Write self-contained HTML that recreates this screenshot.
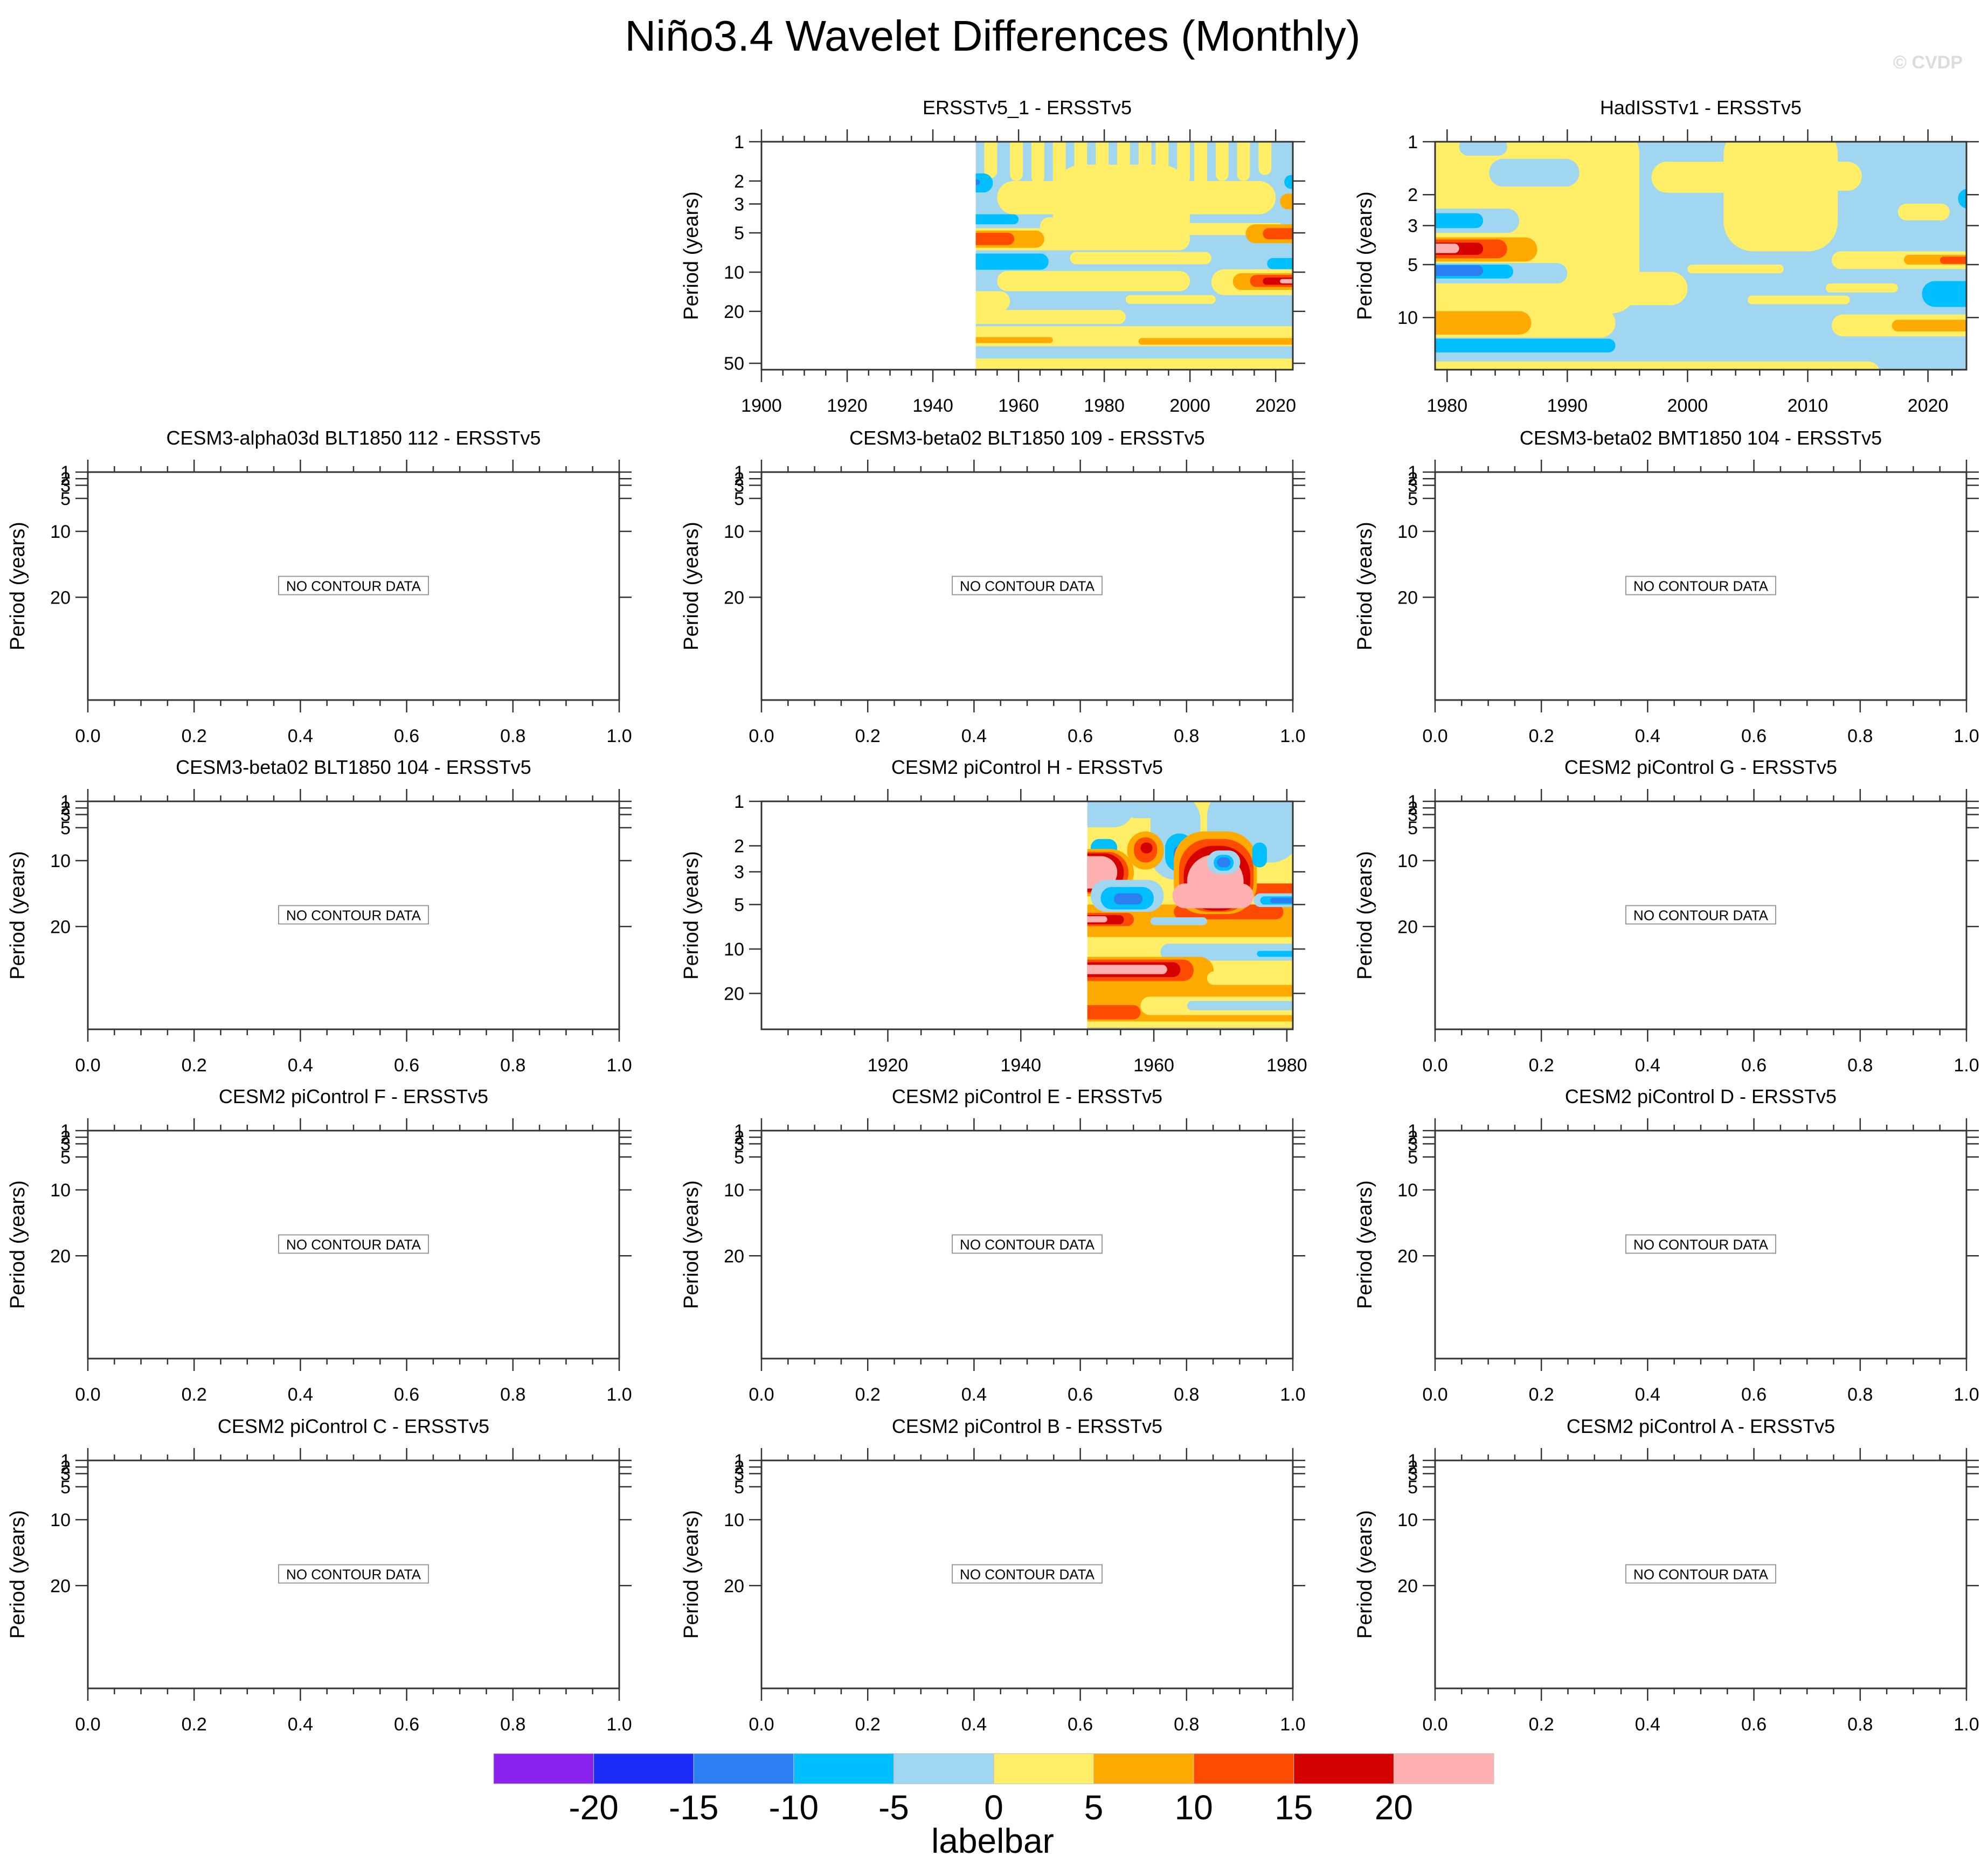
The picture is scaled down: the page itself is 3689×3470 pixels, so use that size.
<!DOCTYPE html>
<html><head><meta charset="utf-8"><style>
html,body{margin:0;padding:0;background:#fff}
svg{display:block}
text{font-family:"Liberation Sans",sans-serif;fill:#000}
</style></head><body>
<svg id="fig" width="3689" height="3470" viewBox="0 0 3689 3470" xmlns="http://www.w3.org/2000/svg">
<text x="1842" y="94" font-size="80" text-anchor="middle">Niño3.4 Wavelet Differences (Monthly)</text>
<text x="3642" y="127" font-size="34" font-weight="bold" text-anchor="end" style="fill:#dcdcdc">© CVDP</text>
<g id="panels"></g>
<g id="labelbar"></g>
</svg>
<script>
// ---- colour levels ----
const levelColors = ["#8a22ee","#1a2bf5","#2c7ff2","#00bfff","#a0d6f0","#ffee66","#ffaa00","#ff4b00","#d50000","#ffb0b0"];
const levelLabels = ["-20","-15","-10","-5","0","5","10","15","20"];
// ---- panel titles ----
const panelTitles = [
 [null,"ERSSTv5_1 - ERSSTv5","HadISSTv1 - ERSSTv5"],
 ["CESM3-alpha03d BLT1850 112 - ERSSTv5","CESM3-beta02 BLT1850 109 - ERSSTv5","CESM3-beta02 BMT1850 104 - ERSSTv5"],
 ["CESM3-beta02 BLT1850 104 - ERSSTv5","CESM2 piControl H - ERSSTv5","CESM2 piControl G - ERSSTv5"],
 ["CESM2 piControl F - ERSSTv5","CESM2 piControl E - ERSSTv5","CESM2 piControl D - ERSSTv5"],
 ["CESM2 piControl C - ERSSTv5","CESM2 piControl B - ERSSTv5","CESM2 piControl A - ERSSTv5"]
];
// ---- contour blobs: [year0, year1, period0, period1, level] ----
const ersstBlobs = [
 [1940,2040,46,75,5],[1930,2045,26,37,5],[1940,1968,31.5,35,6],[1988,2035,32,36,6],
 [1940,1985,19.5,25,5],[1985,2006,15,17.5,5],[1940,1958,14,20,5],
 [1955,2000,9.8,14,5],[1972,2005,7.0,8.7,5],[1940,2000,4.6,6.8,5],
 [1955,2020,2.0,3.6,5],[1965,1990,3.8,5.2,5],[1968,2000,1.5,6.5,5],[1995,2022,4.2,5.2,5],
 [1952,1955,0.8,1.9,5],[1958,1961,0.8,2.0,5],[1963,1966,0.8,2.1,5],[1968,1971,0.8,2.2,5],
 [1973,1976,0.8,2.3,5],[1978,1981,0.8,2.2,5],[1983,1986,0.8,2.4,5],[1988,1991,0.8,2.2,5],
 [1992,1995,0.8,2.3,5],[1997,2000,0.8,2.1,5],[2001,2004,0.8,2.2,5],[2006,2009,0.8,2.0,5],
 [2011,2014,0.8,2.0,5],[2016,2019,0.8,1.8,5],
 [1944,1966,4.8,6.5,6],[1946,1959,5.0,6.2,7],
 [1944,1967,7.2,9.6,3],[1944,1960,3.6,4.3,3],[1948,1954,1.75,2.45,3],[1948,1951,1.95,2.15,2],
 [2022,2028,1.8,2.3,3],[2018,2030,7.8,9.5,3],
 [2013,2032,4.3,6.0,6],[2017,2030,4.6,5.6,7],[2021,2030,2.5,3.3,6],
 [2005,2030,9.5,15,5],[2010,2030,10.2,13.7,6],[2014,2030,10.5,13,7],[2017,2030,11,12.5,8],[2021,2028,11.3,12.2,9]
];
const hadBlobs = [
 [1975,1996,0.8,9.5,5],[1988,2000,5.5,8.5,5],[1983.5,1991,1.25,1.8,4],[1981,1985,0.95,1.2,4],
 [1975,1986,2.4,3.3,4],[1977,1983,2.55,3.1,3],
 [1975,1987.5,3.5,4.8,6],[1975,1985,3.6,4.6,7],[1975,1983,3.75,4.4,8],[1975,1981,3.8,4.3,9],
 [1975,1990,4.9,6.4,4],[1975,1985.5,5.0,6.0,3],[1975,1983,5.05,5.8,2],
 [1975,1994,8.8,13,5],[1975,1987,9.2,12.5,6],[1975,1994,13.2,15.8,3],[1975,2016,17.8,24,5],
 [2003,2012.5,0.8,4.2,5],[1997,2004.5,1.3,1.95,5],[2011.5,2014.5,1.3,1.9,5],[2017.5,2021.8,2.25,2.8,5],
 [2012,2030,4.2,5.3,5],[2018,2030,4.4,5.0,6],[2021,2030,4.5,4.95,7],
 [2000,2008,5.0,5.6,5],[2011.5,2017.5,6.4,7.2,5],[2005,2013.5,7.5,8.4,5],
 [2019.5,2030,6.2,8.7,3],[2022.5,2027,1.85,2.4,3],
 [2012,2030,9.6,12.8,5],[2017,2030,10.3,12,6]
];
const hBlobs = [
 [1940,1990,5.0,8.3,6],[1940,1990,16.5,40,6],
 [1946,1957,0.8,1.5,4],[1955,1962,0.8,1.3,4],[1968,1982,0.8,2.6,4],[1959.5,1967,0.9,3.4,4],
 [1950.5,1954.5,1.8,2.35,3],
 [1956,1961.5,1.6,2.9,6],[1957,1960.5,1.75,2.6,7],[1958,1959.8,1.9,2.25,8],
 [1961.7,1966,1.65,3.0,3],[1963,1964.8,2.0,2.7,2],
 [1963,1979.5,5.0,6.3,7],[1974,1983,3.6,4.4,7],
 [1963,1975.5,1.6,5.8,6],[1963.8,1975,1.8,5.6,7],[1964.5,1974.5,2.0,5.5,8],[1965,1973.5,2.3,5.3,9],[1962.8,1975,3.6,5.3,9],
 [1946,1957,2.1,4.4,6],[1946,1956.2,2.2,4.2,7],[1946,1955.5,2.25,4.1,8],[1946,1954.5,2.35,3.9,9],
 [1950.5,1961.5,3.4,5.6,4],[1952,1960,3.8,5.4,3],[1954,1958.3,4.2,5.0,2],
 [1974.8,1977,1.9,2.8,3],[1968,1973,2.15,3.1,4],[1969,1972,2.3,2.95,3],[1969.5,1971.5,2.4,2.8,2],
 [1975,1983,4.2,5.2,4],[1976,1983,4.4,5.0,3],[1977.5,1982,4.5,4.9,2],
 [1946,1957,5.7,7.0,7],[1946,1955.5,5.9,6.8,8],[1946,1953,6.0,6.6,9],
 [1959.5,1968,6.1,6.9,4],
 [1961,1985,9.2,12,4],[1975.5,1983,10.3,11.3,3],
 [1946,1969,11.3,17.5,6],[1946,1966,11.8,16.5,7],[1946,1964,12.3,15.5,8],[1946,1962,12.8,14.8,9],
 [1968,1990,14.2,17.5,5],
 [1958,1990,21,28,5],[1965,1990,22.5,26,4],[1946,1958,24,30,7],[1940,1990,31,34,5],[1940,1990,34.2,40,4]
];
// ---- axis tick values ----
const ersstMajor=[1900,1920,1940,1960,1980,2000,2020];
const hadMajor=[1980,1990,2000,2010,2020];
const hMajor=[1920,1940,1960,1980];
const emptyMajor=[0,0.2,0.4,0.6,0.8,1.0];
const periodTicks50=[1,2,3,5,10,20,50];
const periodTicks10=[1,2,3,5,10];
const periodTicks20=[1,2,3,5,10,20];

const NS="http://www.w3.org/2000/svg";
const root=document.getElementById('panels');
function mk(tag,attrs,parent){const e=document.createElementNS(NS,tag);for(const k in attrs)e.setAttribute(k,attrs[k]);(parent||root).appendChild(e);return e;}

const colX=[163,1413,2663], rowY=[263,876,1487,2098,2710], W=986, H=423;

function drawPanel(r,c,cfg){
 const x0=colX[c], y0=rowY[r];
 const g=mk('g',{});
 
 
 const sx=v=>x0+(v-cfg.xmin)/(cfg.xmax-cfg.xmin)*W;
 const sy=cfg.log? (p=>y0+Math.log10(p)/Math.log10(cfg.pmax)*H) : (p=>y0+(p-1)/(cfg.pmax-1)*H);
 const t=mk('text',{x:x0+W/2,y:y0-51,'font-size':36,'text-anchor':'middle'},g);
 t.textContent=panelTitles[r][c];
 
 
 if(cfg.blobs){
  const cid='clip'+r+c;
  const cp=mk('clipPath',{id:cid},g);
  mk('rect',{x:sx(cfg.dstart),y:y0,width:x0+W-sx(cfg.dstart),height:H},cp);
  const dg=mk('g',{'clip-path':'url(#'+cid+')'},g);
  
  
  mk('rect',{x:sx(cfg.dstart),y:y0,width:x0+W-sx(cfg.dstart),height:H,fill:levelColors[cfg.base]},dg);
  cfg.blobs.forEach(b=>{
   const xa=Math.min(sx(b[0]),sx(b[1])),xb=Math.max(sx(b[0]),sx(b[1]));
   const ya=Math.min(sy(b[2]),sy(b[3])),yb=Math.max(sy(b[2]),sy(b[3]));
   const w=xb-xa,h=yb-ya,rad=Math.min(w/2,h/2,55);
   const e=mk('rect',{x:xa,y:ya,width:w,height:h,rx:rad,ry:rad,fill:levelColors[b[4]]},dg);
   
   
  });
 } else if(cfg.empty){
  const bg=mk('g',{},g);
  
  
  mk('rect',{x:x0+W/2-139,y:y0+H/2-18,width:278,height:34,fill:'#fff',stroke:'#999','stroke-width':2},bg);
  const nt=mk('text',{x:x0+W/2,y:y0+H/2+9,'font-size':26,'text-anchor':'middle'},bg);
  nt.textContent='NO CONTOUR DATA';
 }
 const fr=mk('rect',{x:x0,y:y0,width:W,height:H,fill:'none',stroke:'#333','stroke-width':3},g);
 
 
 const ax=mk('g',{stroke:'#333','stroke-width':2.5},g);
 
 
 for(let v=cfg.minorStart; v<=cfg.xmax+1e-9; v+=cfg.minor){
  if(v<cfg.xmin-1e-9) continue;
  const X=sx(v);
  const isMaj=cfg.major.some(m=>Math.abs(m-v)<1e-6);
  const L=isMaj?23:11;
  mk('line',{x1:X,y1:y0,x2:X,y2:y0-L},ax);
  mk('line',{x1:X,y1:y0+H,x2:X,y2:y0+H+L},ax);
 }
 cfg.major.forEach(m=>{
  const lt=mk('text',{x:sx(m),y:y0+H+78,'font-size':34,'text-anchor':'middle',stroke:'none'},g);
  lt.textContent=cfg.fmt?cfg.fmt(m):String(m);
  
  
 });
 const ay=mk('g',{stroke:'#333','stroke-width':2.5},g);
 
 
 cfg.yt.forEach(p=>{
  const Y=sy(p);
  mk('line',{x1:x0,y1:Y,x2:x0-23,y2:Y},ay);
  mk('line',{x1:x0+W,y1:Y,x2:x0+W+23,y2:Y},ay);
  const yl=mk('text',{x:x0-32,y:Y+12,'font-size':34,'text-anchor':'end',stroke:'none'},g);
  yl.textContent=String(p);
  
  
 });
 const yt=mk('text',{x:0,y:0,'font-size':38,'text-anchor':'middle',transform:'translate('+(x0-118)+','+(y0+H/2)+') rotate(-90)'},g);
 yt.textContent='Period (years)';
 
 
}

drawPanel(0,1,{xmin:1900,xmax:2024,log:true,pmax:56,blobs:ersstBlobs,base:4,dstart:1950,major:ersstMajor,minor:5,minorStart:1900,yt:periodTicks50});
drawPanel(0,2,{xmin:1979,xmax:2023.2,log:true,pmax:19.8,blobs:hadBlobs,base:4,dstart:1979,major:hadMajor,minor:2,minorStart:1980,yt:periodTicks10});
for(let r=1;r<5;r++)for(let c=0;c<3;c++){
 if(r===2&&c===1){
  drawPanel(r,c,{xmin:1901,xmax:1980.9,log:true,pmax:35,blobs:hBlobs,base:5,dstart:1950,major:hMajor,minor:5,minorStart:1905,yt:periodTicks20});
 } else {
  drawPanel(r,c,{xmin:0,xmax:1,log:false,pmax:35.6,empty:true,major:emptyMajor,minor:0.05,minorStart:0,yt:periodTicks20,fmt:v=>v.toFixed(1)});
 }
}

const lb=document.getElementById('labelbar');
const bx0=916,bw=185.6,by=3254,bh=56;
levelColors.forEach((col,i)=>{
 const r=mk('rect',{x:bx0+i*bw,y:by,width:bw,height:bh,fill:col,stroke:'#bbb','stroke-width':1},lb);
 
 
});
levelLabels.forEach((s,i)=>{
 const t=mk('text',{x:bx0+(i+1)*bw,y:3376,'font-size':64,'text-anchor':'middle'},lb);
 t.textContent=s;
 
 
});
const lt=mk('text',{x:1842,y:3438,'font-size':64,'text-anchor':'middle'},lb);
lt.textContent='labelbar';


</script>
</body></html>
